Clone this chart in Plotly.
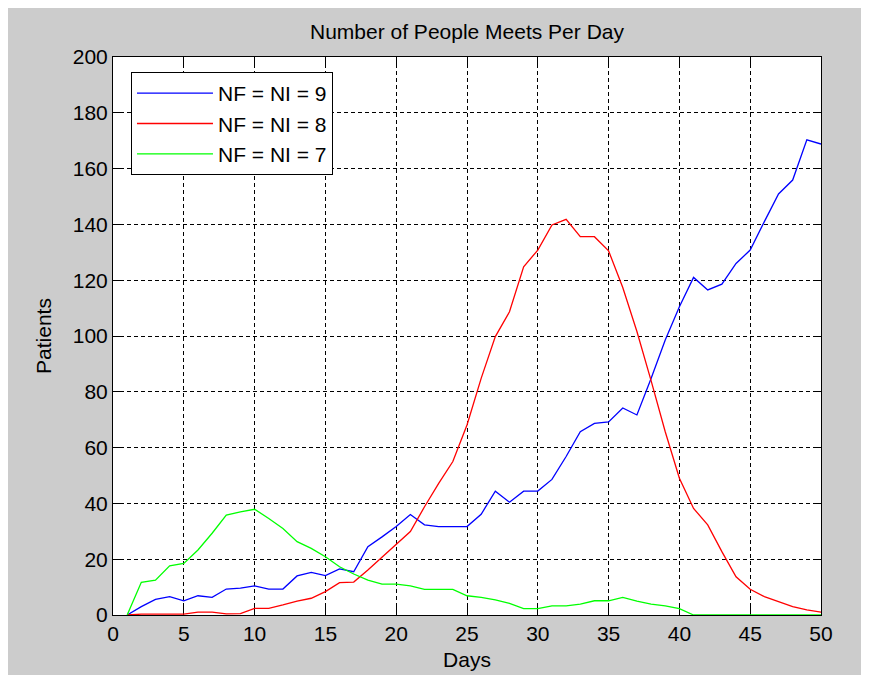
import plotly.graph_objects as go

days = list(range(1, 51))

nf9 = [0, 3, 5.6, 6.6, 5.1, 6.9, 6.3, 9.3, 9.6, 10.4,
       9.3, 9.3, 14, 15.3, 14.1, 16.5, 15.5, 24.5, 28, 31.7,
       36, 32.3, 31.7, 31.7, 31.7, 36.1, 44.4, 40.4, 44.4, 44.4,
       48.6, 56.8, 65.7, 68.7, 69.2, 74.2, 71.7, 84.8, 98.6, 110.5,
       121, 116.5, 118.6, 126, 130.8, 141, 150.9, 155.9, 170.3, 168.8]

nf8 = [0, 0.3, 0.3, 0.3, 0.3, 1, 1, 0.4, 0.5, 2.4,
       2.4, 3.6, 5, 6, 8.4, 11.6, 11.8, 16.1, 20.7, 25.5,
       29.9, 38.8, 47.2, 55, 68.1, 84.8, 99.8, 108.7, 124.8, 130.8,
       139.8, 141.8, 135.6, 135.6, 130.5, 117.4, 101.6, 84, 65.7, 49,
       38.2, 32.3, 22.7, 13.7, 9.2, 6.6, 4.8, 3, 1.8, 1]

nf7 = [0, 11.7, 12.5, 17.6, 18.5, 23.3, 29.3, 35.8, 37, 37.9,
       34.6, 31, 26.3, 23.9, 20.9, 17.3, 14.7, 12.5, 11.1, 11.1,
       10.4, 9.2, 9.2, 9.2, 6.9, 6.3, 5.4, 4.2, 2.3, 2.3,
       3.3, 3.3, 3.9, 5.1, 5.1, 6.3, 5, 3.9, 3.3, 2.3,
       0, 0, 0, 0, 0, 0, 0, 0, 0, 0]

series_names = ["NF = NI = 9", "NF = NI = 8", "NF = NI = 7"]
series_values = [nf9, nf8, nf7]
series_colors = ["#0000ff", "#ff0000", "#00ff00"]

x_ticks = list(range(0, 51, 5))
y_ticks = list(range(0, 201, 20))

FONT = "Liberation Sans, Arial, sans-serif"

fig = go.Figure()
for name, vals, col in zip(series_names, series_values, series_colors):
    fig.add_trace(go.Scatter(x=days, y=vals, mode="lines", name=name,
                             line=dict(color=col, width=1.3)))

axis_common = dict(
    showline=True, linecolor="black", linewidth=1, mirror="ticks",
    ticks="inside", ticklen=8, tickcolor="black", tickwidth=1,
    showgrid=True, gridcolor="black", gridwidth=1, griddash="4px,3px",
    zeroline=False, tickfont=dict(family=FONT, size=21, color="black"),
    layer="below traces", automargin=False,
)

fig.update_xaxes(range=[0, 50], tickvals=x_ticks, ticktext=[str(v) for v in x_ticks],
                 title=dict(text="Days", font=dict(family=FONT, size=21, color="black"), standoff=8),
                 **axis_common)
fig.update_yaxes(range=[0, 200], tickvals=y_ticks, ticktext=[str(v) for v in y_ticks],
                 title=dict(text="Patients", font=dict(family=FONT, size=21, color="black"), standoff=15),
                 **axis_common)

fig.update_layout(
    width=861, height=667,
    margin=dict(l=105, r=48, t=49, b=60, autoexpand=False),
    paper_bgcolor="#cccccc", plot_bgcolor="white",
    font=dict(family=FONT, size=21, color="black"),
    title=dict(text="Number of People Meets Per Day", x=0.5, xref="paper",
               y=1, yref="paper", yanchor="bottom", pad=dict(b=18),
               font=dict(family=FONT, size=21, color="black")),
    showlegend=True,
    legend=dict(x=0.0254, y=0.973, xanchor="left", yanchor="top",
                bgcolor="white", bordercolor="black", borderwidth=1,
                font=dict(family=FONT, size=21, color="black"),
                itemwidth=76),
)

fig.write_html("out.html")
